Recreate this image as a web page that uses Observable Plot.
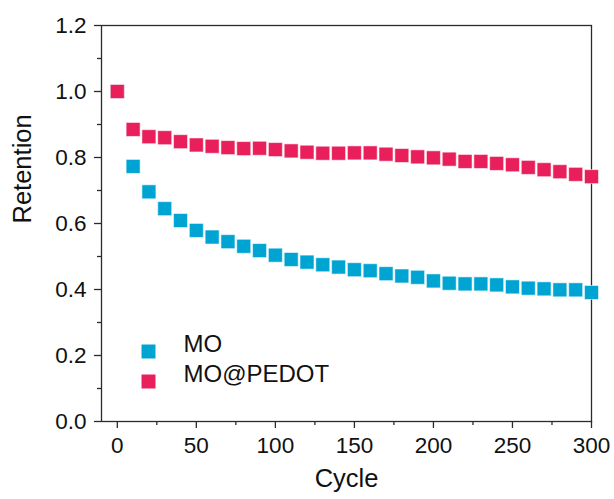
<!DOCTYPE html>
<html>
<head>
<meta charset="utf-8">
<script src="https://cdn.jsdelivr.net/npm/d3@7"></script>
<script src="https://cdn.jsdelivr.net/npm/@observablehq/plot@0.6"></script>
<style>
  html, body { margin: 0; padding: 0; background: #fff; }
  #chart svg { display: block; }
  /* tick labels */
  #chart g[aria-label$="tick label"] { font-size: 22.5px !important; }
</style>
</head>
<body>
<div id="chart"></div>
<script>
// Cycle number of each measurement
const cycles = [0, 10, 20, 30, 40, 50, 60, 70, 80, 90, 100, 110, 120, 130, 140, 150,
                160, 170, 180, 190, 200, 210, 220, 230, 240, 250, 260, 270, 280, 290, 300];

// Capacity retention, bare MO electrode
const retentionMO = [1.000, 0.773, 0.696, 0.645, 0.609, 0.579, 0.559, 0.545, 0.531, 0.518, 0.504,
                     0.491, 0.483, 0.475, 0.468, 0.460, 0.457, 0.448, 0.441, 0.437, 0.426,
                     0.419, 0.417, 0.417, 0.414, 0.408, 0.404, 0.402, 0.399, 0.399, 0.391];

// Capacity retention, PEDOT-coated electrode
const retentionPEDOT = [1.000, 0.885, 0.863, 0.860, 0.848, 0.838, 0.834, 0.830, 0.827, 0.828, 0.824,
                        0.820, 0.816, 0.813, 0.813, 0.814, 0.814, 0.810, 0.806, 0.802, 0.799,
                        0.795, 0.788, 0.788, 0.782, 0.778, 0.770, 0.763, 0.757, 0.749, 0.742];

const seriesNames = ["MO", "MO@PEDOT"];
const seriesColors = ["#00A4D3", "#E81F5A"];

const xTicks = [0, 50, 100, 150, 200, 250, 300];
const xMinorTicks = [25, 75, 125, 175, 225, 275];
const yTicks = [0.0, 0.2, 0.4, 0.6, 0.8, 1.0, 1.2];
const yMinorTicks = [0.1, 0.3, 0.5, 0.7, 0.9, 1.1];

const rows = [
  ...cycles.map((c, i) => ({cycle: c, retention: retentionMO[i], series: seriesNames[0]})),
  ...cycles.map((c, i) => ({cycle: c, retention: retentionPEDOT[i], series: seriesNames[1]}))
];

const axisColor = "#2b2b2b";
const textColor = "#111";
const tickFont = 22.5;
const titleFont = 25.5;
const legendFont = 24;
const squareR = 7.9; // square side ≈ 14px

const chart = Plot.plot({
  width: 614,
  height: 499,
  marginLeft: 101,
  marginRight: 23,
  marginTop: 25,
  marginBottom: 78,
  style: {fontFamily: "'Liberation Sans', Arial, sans-serif", fontSize: "22.5px", color: textColor, background: "#fff"},
  x: {domain: [-10, 300]},
  y: {domain: [0, 1.2]},
  color: {domain: seriesNames, range: seriesColors},
  marks: [
    Plot.frame({stroke: axisColor, strokeWidth: 1.3}),
    Plot.axisX({ticks: xTicks, tickSize: 7, tickPadding: 9, tickFormat: d3.format("d"),
                label: null, stroke: axisColor, strokeWidth: 1.3, fontSize: tickFont, fill: textColor}),
    Plot.axisX({ticks: xMinorTicks, tickSize: 4, tickFormat: () => "", label: null,
                stroke: axisColor, strokeWidth: 1.3}),
    Plot.axisY({ticks: yTicks, tickSize: 7, tickPadding: 8, tickFormat: d3.format(".1f"),
                label: null, stroke: axisColor, strokeWidth: 1.3, fontSize: tickFont, fill: textColor}),
    Plot.axisY({ticks: yMinorTicks, tickSize: 4, tickFormat: () => "", label: null,
                stroke: axisColor, strokeWidth: 1.3}),
    // axis titles
    Plot.text(["Cycle"], {frameAnchor: "bottom", dy: 65, fontSize: titleFont, fill: textColor}),
    Plot.text(["Retention"], {frameAnchor: "left", dx: -79, rotate: -90, fontSize: titleFont, fill: textColor}),
    // data squares
    Plot.dot(rows, {x: "cycle", y: "retention", fill: "series", symbol: "square", r: squareR,
                    stroke: "#fff", strokeOpacity: 0.55, strokeWidth: 1}),
    // legend
    Plot.dot([seriesNames[0]], {frameAnchor: "bottom-left", dx: 47, dy: -70, fill: d => d,
                                symbol: "square", r: squareR}),
    Plot.dot([seriesNames[1]], {frameAnchor: "bottom-left", dx: 47, dy: -40, fill: d => d,
                                symbol: "square", r: squareR}),
    Plot.text([seriesNames[0]], {frameAnchor: "bottom-left", dx: 82, dy: -70, text: d => d,
                                 textAnchor: "start", fontSize: legendFont, fill: textColor}),
    Plot.text([seriesNames[1]], {frameAnchor: "bottom-left", dx: 82, dy: -40, text: d => d,
                                 textAnchor: "start", fontSize: legendFont, fill: textColor})
  ]
});

document.getElementById("chart").appendChild(chart);
</script>
</body>
</html>
